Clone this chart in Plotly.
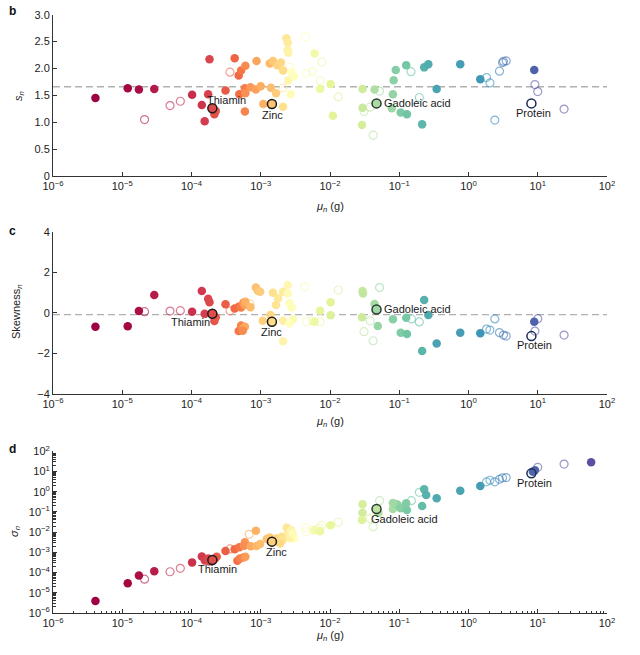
import numpy as np
import plotly.graph_objects as go
from plotly.colors import sample_colorscale

SPECTRAL = [[0.0, "#9e0142"], [0.1, "#d53e4f"], [0.2, "#f46d43"], [0.3, "#fdae61"],
            [0.4, "#fee08b"], [0.5, "#ffffbf"], [0.6, "#e6f598"], [0.7, "#abdda4"],
            [0.8, "#66c2a5"], [0.9, "#3288bd"], [1.0, "#5e4fa2"]]

# ---------------- highlighted nutrients ----------------
hl_names = ["Thiamin", "Zinc", "Gadoleic acid", "Protein"]
hl_mu = [2.0e-4, 1.45e-3, 4.7e-2, 8.1]
hl_s = [1.26, 1.34, 1.35, 1.35]
hl_skew = [-0.04, -0.44, 0.17, -1.15]
hl_sigma = [4.2e-4, 3.4e-3, 0.141, 8.1]

# ---------------- panel b: s_n ----------------
b_mu = [4.1e-6, 1.2e-5, 1.74e-5, 2.9e-5, 2.1e-5, 4.9e-5, 6.9e-5, 1.02e-4, 1.41e-4, 1.55e-4,
        1.74e-4, 1.82e-4, 2.24e-4, 2.14e-4, 3.1e-4, 3.6e-4, 4.2e-4, 4.8e-4, 5.2e-4, 6.0e-4,
        4.9e-4, 5.9e-4, 6.0e-4, 5.9e-4, 7.1e-4, 8.5e-4, 8.7e-4, 1.0e-3, 1.09e-3, 1.35e-3,
        1.5e-3, 1.4e-3, 1.66e-3, 1.74e-3, 1.95e-3, 2.1e-3, 2.1e-3, 2.1e-3, 2.35e-3, 2.45e-3,
        2.45e-3, 2.5e-3, 2.5e-3, 2.7e-3, 2.8e-3, 3.0e-3, 2.6e-3, 4.4e-3, 4.6e-3, 5.6e-3,
        6.0e-3, 7.6e-3, 7.2e-3, 7.2e-3, 1.02e-2, 1.32e-2, 1.1e-2, 2.95e-2, 4.4e-2, 5.2e-2,
        2.95e-2, 3.1e-2, 3.8e-2, 2.9e-2, 4.2e-2, 7.8e-2, 8.1e-2, 8.3e-2, 8.9e-2, 0.126,
        0.148, 0.105, 0.129, 0.195, 0.214, 0.229, 0.263, 0.347, 0.76, 1.48,
        1.82, 2.04, 2.4, 2.8, 3.1, 3.2, 3.5, 8.9, 9.1, 10.0,
        24.0]
b_s = [1.45, 1.63, 1.61, 1.62, 1.05, 1.31, 1.39, 1.51, 1.32, 1.02,
       1.52, 2.17, 1.21, 1.15, 1.59, 1.93, 2.19, 1.87, 1.96, 2.05,
       1.52, 1.63, 1.54, 1.20, 1.65, 1.61, 2.14, 1.67, 1.34, 2.09,
       2.14, 1.64, 1.54, 2.06, 2.11, 1.96, 1.29, 1.64, 2.56, 2.48,
       2.34, 2.29, 1.78, 1.52, 1.93, 1.85, 2.03, 2.59, 1.91, 1.94,
       2.28, 2.12, 1.77, 1.62, 1.71, 1.47, 1.12, 1.62, 1.61, 1.58,
       1.27, 1.20, 1.28, 0.95, 0.76, 1.26, 1.52, 1.78, 1.97, 2.06,
       1.94, 1.18, 1.15, 1.46, 0.96, 2.02, 2.08, 1.62, 2.08, 1.80,
       1.83, 1.73, 1.04, 1.95, 2.11, 2.13, 2.14, 1.97, 1.70, 1.57,
       1.245]
b_open = [0, 0, 0, 0, 1, 1, 1, 0, 0, 0,
          0, 0, 0, 0, 0, 1, 0, 0, 0, 0,
          0, 0, 0, 0, 0, 0, 0, 0, 0, 0,
          0, 0, 0, 0, 0, 0, 0, 1, 0, 0,
          0, 0, 0, 0, 0, 0, 1, 1, 1, 1,
          0, 1, 1, 0, 0, 1, 0, 0, 0, 1,
          0, 1, 1, 0, 1, 0, 0, 0, 0, 0,
          1, 0, 0, 1, 0, 0, 0, 0, 0, 0,
          1, 1, 1, 1, 1, 1, 1, 0, 1, 1,
          1]
b_mean = 1.66

# ---------------- panel c: skewness_n ----------------
c_mu = [4.1e-6, 1.2e-5, 1.74e-5, 2.1e-5, 2.9e-5, 4.9e-5, 6.9e-5, 1.02e-4, 1.41e-4, 1.55e-4,
        1.74e-4, 1.82e-4, 2.14e-4, 2.24e-4, 3.1e-4, 3.6e-4, 4.2e-4, 4.8e-4, 5.2e-4, 5.6e-4,
        5.9e-4, 6.0e-4, 6.9e-4, 7.1e-4, 4.8e-4, 5.2e-4, 5.6e-4, 5.9e-4, 5.5e-4, 8.5e-4,
        9.1e-4, 9.8e-4, 1.07e-3, 1.38e-3, 1.5e-3, 1.78e-3, 1.66e-3, 2.1e-3, 2.1e-3, 2.1e-3,
        2.45e-3, 2.45e-3, 2.6e-3, 2.8e-3, 2.95e-3, 2.6e-3, 4.3e-3, 4.6e-3, 5.6e-3, 6.0e-3,
        7.2e-3, 7.2e-3, 1.02e-2, 1.02e-2, 1.32e-2, 2.9e-2, 2.95e-2, 3.0e-2, 5.2e-2, 4.4e-2,
        3.8e-2, 3.1e-2, 4.2e-2, 4.9e-2, 8.1e-2, 0.105, 0.129, 0.126, 0.15, 0.195,
        0.214, 0.229, 0.263, 0.347, 0.76, 1.48, 2.4, 1.82, 2.04, 2.8,
        3.2, 3.5, 8.9, 10.0, 9.1, 24.0]
c_skew = [-0.69, -0.66, 0.09, 0.06, 0.88, 0.09, 0.11, 0.06, 1.08, -0.05,
          0.70, 0.52, -0.40, -0.22, 0.43, 0.10, 0.22, 0.30, 0.27, 0.50,
          0.39, 0.55, 0.45, 0.28, -0.90, -0.62, -0.77, -0.69, -0.88, 1.26,
          1.09, 1.04, -0.39, -0.11, 1.00, 0.72, 0.39, 1.05, -0.39, -1.40,
          1.38, 0.96, 0.47, 0.27, -0.32, -0.52, 1.29, -0.44, -0.40, -0.44,
          -0.45, 0.11, 0.52, -0.12, 1.13, -0.22, 1.08, 0.96, 1.25, 0.44,
          -0.39, -0.93, -1.38, -0.65, -0.32, -0.98, -1.05, -0.24, -0.30, -0.45,
          -1.89, 0.64, -0.11, -1.51, -0.98, -1.01, -0.30, -0.80, -0.85, -0.98,
          -1.10, -1.15, -0.44, -0.29, -0.90, -1.10]
c_open = [0, 0, 0, 1, 0, 1, 1, 0, 0, 0,
          0, 0, 0, 0, 0, 1, 0, 0, 0, 0,
          0, 0, 1, 0, 0, 0, 0, 0, 0, 0,
          0, 0, 0, 0, 0, 0, 0, 0, 0, 0,
          0, 0, 0, 0, 0, 0, 1, 1, 1, 0,
          1, 0, 0, 0, 1, 0, 0, 0, 1, 0,
          1, 1, 1, 0, 0, 0, 0, 0, 1, 1,
          0, 0, 0, 0, 0, 0, 1, 1, 1, 1,
          1, 1, 0, 1, 1, 1]
c_mean = -0.09

# ---------------- panel d: sigma_n ----------------
d_mu = [4.1e-6, 1.2e-5, 1.74e-5, 2.1e-5, 2.9e-5, 4.9e-5, 6.9e-5, 1.02e-4, 1.41e-4, 1.56e-4,
        1.75e-4, 1.8e-4, 2.19e-4, 2.31e-4, 3.1e-4, 3.6e-4, 4.2e-4, 4.9e-4, 5.9e-4, 5.75e-4,
        4.6e-4, 5.0e-4, 5.6e-4, 6.0e-4, 6.8e-4, 8.5e-4, 7.2e-4, 8.7e-4, 9.8e-4, 1.22e-3,
        1.35e-3, 1.69e-3, 2.0e-3, 2.08e-3, 1.9e-3, 2.37e-3, 2.5e-3, 2.64e-3, 2.9e-3, 3.05e-3,
        2.64e-3, 2.75e-3, 2.9e-3, 4.4e-3, 4.6e-3, 5.6e-3, 6.0e-3, 7.2e-3, 7.0e-3, 7.6e-3,
        1.02e-2, 1.32e-2, 2.95e-2, 2.95e-2, 2.9e-2, 3.8e-2, 4.2e-2, 5.2e-2, 5.0e-2, 8.1e-2,
        8.9e-2, 9.5e-2, 8.1e-2, 0.105, 0.129, 0.126, 0.15, 0.195, 0.214, 0.229,
        0.245, 0.347, 0.76, 1.48, 1.82, 2.04, 2.4, 2.8, 3.1, 3.5,
        8.5, 9.1, 10.0, 24.0, 59.0]
d_sigma = [3.9e-6, 2.95e-5, 7.1e-5, 4.7e-5, 1.15e-4, 1.1e-4, 1.62e-4, 3.2e-4, 6.2e-4, 4.0e-4,
           5.0e-4, 3.5e-4, 5.0e-4, 6.0e-4, 1.17e-3, 1.48e-3, 1.41e-3, 1.78e-3, 3.2e-3, 2.1e-3,
           3.9e-4, 5.0e-4, 5.6e-4, 6.0e-4, 7.8e-3, 1.17e-2, 2.0e-3, 2.04e-3, 2.6e-3, 4.6e-3,
           5.5e-3, 4.9e-3, 6.0e-3, 4.1e-3, 2.75e-3, 1.66e-2, 9.3e-3, 7.6e-3, 5.6e-3, 4.8e-3,
           5.2e-3, 1.29e-2, 8.7e-3, 1.66e-2, 1.05e-2, 1.29e-2, 1.26e-2, 1.1e-2, 1.55e-2, 2.2e-2,
           2.2e-2, 3.1e-2, 0.24, 9.1e-2, 4.0e-2, 4.8e-2, 1.86e-2, 0.36, 8.9e-2, 0.141,
           0.25, 0.224, 0.275, 0.151, 0.126, 0.27, 0.36, 0.93, 0.195, 1.32,
           0.69, 0.47, 1.12, 1.9, 3.1, 3.7, 3.1, 4.1, 4.9, 5.0,
           9.8, 11.7, 16.2, 23.4, 28.8]
d_open = [0, 0, 0, 1, 0, 1, 1, 0, 0, 0,
          0, 0, 0, 0, 0, 1, 0, 0, 0, 0,
          0, 0, 0, 0, 1, 0, 0, 0, 0, 0,
          0, 0, 0, 0, 0, 0, 0, 0, 0, 0,
          0, 0, 0, 1, 1, 1, 0, 0, 1, 1,
          0, 1, 0, 0, 0, 1, 1, 1, 0, 0,
          0, 0, 0, 0, 0, 0, 1, 1, 0, 0,
          0, 0, 0, 0, 1, 1, 1, 1, 1, 1,
          0, 0, 1, 1, 0]

x_tickvals = [1e-6, 1e-5, 1e-4, 1e-3, 1e-2, 1e-1, 1e0, 1e1, 1e2]
x_ticktext = ["10<sup>−6</sup>", "10<sup>−5</sup>", "10<sup>−4</sup>", "10<sup>−3</sup>",
              "10<sup>−2</sup>", "10<sup>−1</sup>", "10<sup>0</sup>", "10<sup>1</sup>", "10<sup>2</sup>"]
s_tickvals = [0, 0.5, 1.0, 1.5, 2.0, 2.5, 3.0]
s_ticktext = ["0", "0.5", "1.0", "1.5", "2.0", "2.5", "3.0"]
k_tickvals = [-4, -2, 0, 2, 4]
k_ticktext = ["−4", "−2", "0", "2", "4"]
sig_tickvals = [1e-6, 1e-5, 1e-4, 1e-3, 1e-2, 1e-1, 1e0, 1e1, 1e2]
sig_ticktext = x_ticktext

# label offsets (px) for the highlighted names, per panel: (xshift, yshift, xanchor)
b_lab = [(14, 8, "center"), (1, -11, "center"), (5, 0, "left"), (2, -10, "center")]
c_lab = [(-22, -8, "center"), (0, -10, "center"), (5, 0, "left"), (3, -9, "center")]
d_lab = [(5, -9, "center"), (5, -10, "center"), (28, -10, "center"), (3, -10, "center")]

fig = go.Figure()
annotations = []


def add_panel(mu, val, is_open, hl_val, xa, ya, labels, mean=None, logy=False):
    mu_all = np.array(list(mu) + list(hl_mu), dtype=float)
    order = np.argsort(mu_all, kind="stable")
    rank = np.empty(len(mu_all))
    rank[order] = np.arange(len(mu_all))
    t = rank / (len(mu_all) - 1)
    cols = sample_colorscale(SPECTRAL, list(t))
    n = len(mu)
    mu = np.array(mu, dtype=float)
    val = np.array(val, dtype=float)
    op = np.array(is_open, dtype=bool)
    if mean is not None:
        fig.add_trace(go.Scatter(x=[1e-6, 1e2], y=[mean, mean], mode="lines", xaxis=xa, yaxis=ya,
                                 line=dict(color="#b0b0b0", width=1.3, dash="7px,4px"),
                                 hoverinfo="skip"))
    oc = [cols[i] for i in range(n) if op[i]]
    fig.add_trace(go.Scatter(x=mu[op], y=val[op], mode="markers", xaxis=xa, yaxis=ya,
                             marker=dict(symbol="circle-open", size=8, color=oc,
                                         line=dict(width=1.2), opacity=0.6)))
    fc = [cols[i] for i in range(n) if not op[i]]
    fig.add_trace(go.Scatter(x=mu[~op], y=val[~op], mode="markers", xaxis=xa, yaxis=ya,
                             marker=dict(symbol="circle", size=8.5, color=fc,
                                         line=dict(width=0))))
    hc = [cols[n], cols[n + 1], cols[n + 2], "rgba(255,255,255,0)"]
    fig.add_trace(go.Scatter(x=hl_mu, y=hl_val, mode="markers", xaxis=xa, yaxis=ya,
                             marker=dict(symbol="circle", size=9, color=hc,
                                         line=dict(width=1.5,
                                                   color=["#1a1a1a", "#1a1a1a", "#2c3a30", "#1b2a55"]))))
    xr = "x" if xa == "x" else xa
    yr = "y" if ya == "y" else ya
    for i, name in enumerate(hl_names):
        xs, ys, anc = labels[i]
        yv = np.log10(hl_val[i]) if logy else hl_val[i]
        annotations.append(dict(x=float(np.log10(hl_mu[i])), y=float(yv), xref=xr, yref=yr,
                                text=name, showarrow=False, xshift=xs, yshift=ys,
                                xanchor=anc, yanchor="middle",
                                font=dict(size=11, color="#1a1a1a")))


add_panel(b_mu, b_s, b_open, hl_s, "x", "y", b_lab, mean=b_mean)
add_panel(c_mu, c_skew, c_open, hl_skew, "x2", "y2", c_lab, mean=c_mean)
add_panel(d_mu, d_sigma, d_open, hl_sigma, "x3", "y3", d_lab, logy=True)

minor_vals = [k * 10.0 ** e for e in range(-6, 2) for k in range(2, 10)]

axis_common = dict(showline=True, linecolor="#333333", linewidth=1, ticks="inside",
                   tickcolor="#333333", ticklen=4, showgrid=False, zeroline=False,
                   automargin=False, tickfont=dict(size=11, color="#222"))

fig.update_layout(
    width=640, height=655,
    margin=dict(l=53, r=33, t=0, b=0),
    plot_bgcolor="white", paper_bgcolor="white", showlegend=False,
    font=dict(family="Liberation Sans, Arial, Helvetica, sans-serif", size=11, color="#222"),
    xaxis=dict(type="log", range=[-6, 2], anchor="y", tickmode="array", tickvals=x_tickvals,
               ticktext=x_ticktext, **axis_common),
    yaxis=dict(range=[0, 3], domain=[0.7313, 0.9776], anchor="x", tickmode="array",
               tickvals=s_tickvals, ticktext=s_ticktext, **axis_common),
    xaxis2=dict(type="log", range=[-6, 2], anchor="y2", tickmode="array", tickvals=x_tickvals,
                ticktext=x_ticktext, **axis_common),
    yaxis2=dict(range=[-4, 4], domain=[0.3989, 0.6458], anchor="x2", tickmode="array",
                tickvals=k_tickvals, ticktext=k_ticktext, **axis_common),
    xaxis3=dict(type="log", range=[-6, 2], anchor="y3", tickmode="array", tickvals=x_tickvals,
                ticktext=x_ticktext,
                minor=dict(tickmode="array", tickvals=minor_vals, ticks="inside", ticklen=2.5,
                           tickcolor="#333333", showgrid=False),
                **axis_common),
    yaxis3=dict(type="log", range=[-6, 2], domain=[0.0641, 0.3110], anchor="x3", tickmode="array",
                tickvals=sig_tickvals, ticktext=sig_ticktext,
                minor=dict(tickmode="array", tickvals=minor_vals, ticks="inside", ticklen=2.5,
                           tickcolor="#333333", showgrid=False),
                **axis_common),
)

# x-axis titles (placed explicitly under each panel)
for py in [207, 422, 636]:
    annotations.append(dict(x=0.5, y=1 - py / 655, xref="paper", yref="paper",
                            text="<i>μ</i><sub><i>n</i></sub> (g)", showarrow=False,
                            xanchor="center", yanchor="middle",
                            font=dict(size=11, color="#222")))

# y-axis titles
for txt, px, py in [("<i>s</i><sub><i>n</i></sub>", 19, 96),
                    ("Skewness<sub><i>n</i></sub>", 17, 312),
                    ("<i>σ</i><sub><i>n</i></sub>", 15, 532)]:
    annotations.append(dict(x=(px - 53) / 554, y=1 - py / 655, xref="paper", yref="paper",
                            text=txt, showarrow=False, textangle=-90,
                            xanchor="center", yanchor="middle",
                            font=dict(size=11, color="#222")))

for letter, py in [("b", 11), ("c", 230.7), ("d", 449)]:
    annotations.append(dict(x=(12.5 - 53) / 554, y=1 - py / 655, xref="paper", yref="paper",
                            text="<b>" + letter + "</b>", showarrow=False, xanchor="center",
                            yanchor="middle", font=dict(size=12, color="#111")))

fig.update_layout(annotations=annotations)
fig.write_html("out.html", config={"displayModeBar": False},
               post_script="document.body.style.margin='0px';document.body.style.overflow='hidden';")
